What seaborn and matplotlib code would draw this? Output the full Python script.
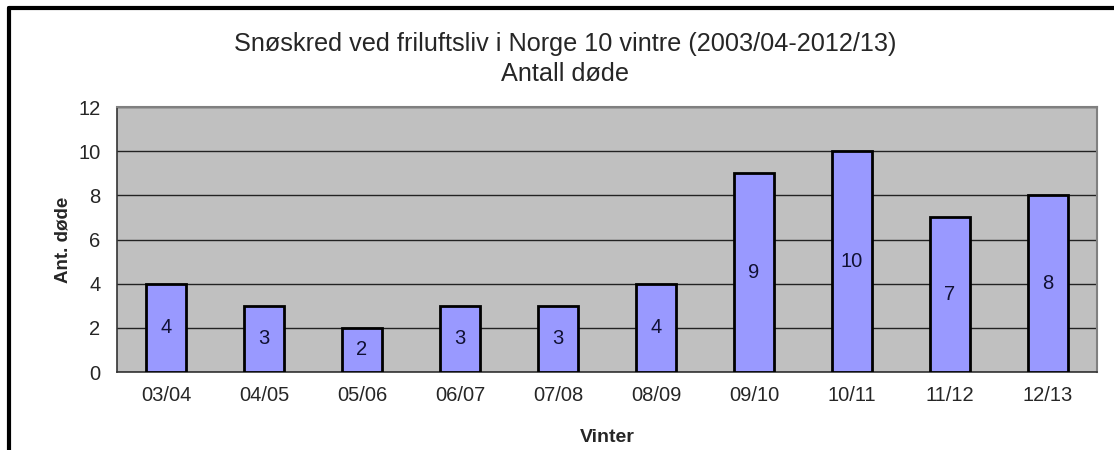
import numpy as np
import pandas as pd
import seaborn as sns
import matplotlib.pyplot as plt
from matplotlib.lines import Line2D

# data
vintre = ['03/04', '04/05', '05/06', '06/07', '07/08', '08/09', '09/10', '10/11', '11/12', '12/13']
doede = [4, 3, 2, 3, 3, 4, 9, 10, 7, 8]

df = pd.DataFrame({'Vinter': vintre, 'Ant. døde': doede})

sns.set_style('white')
plt.rcParams['font.family'] = ['Liberation Sans', 'DejaVu Sans']

fig = plt.figure(figsize=(11.14, 4.5), dpi=100)
ax = fig.add_axes([0.105, 0.1733, 0.8797, 0.5889])
ax.set_facecolor('#C0C0C0')

sns.barplot(data=df, x='Vinter', y='Ant. døde', color='#9999FF', width=0.4,
            edgecolor='black', linewidth=2, saturation=1, ax=ax, zorder=3)

# tall midt i stolpene
for i, v in enumerate(doede):
    ax.text(i, v / 2, str(v), ha='center', va='center', fontsize=14.5, color='#111133', zorder=4)

ax.set_ylim(0, 12)
ax.set_yticks(range(0, 13, 2))
ax.set_xlim(-0.5, len(vintre) - 0.5)
ax.yaxis.grid(True, color='#222222', linewidth=1, zorder=1)
ax.set_axisbelow(True)

ax.set_xticks(np.arange(-0.5, len(vintre)), minor=True)
ax.tick_params(axis='x', which='major', length=0, labelsize=14.5, pad=10)
ax.tick_params(axis='x', which='minor', length=6, width=1, color='#333333', direction='out')
ax.tick_params(axis='y', length=6, width=1, color='#333333', direction='out', labelsize=14.5, pad=6)

for s in ['left', 'bottom']:
    ax.spines[s].set_color('#333333')
    ax.spines[s].set_linewidth(1.2)
for s in ['top', 'right']:
    ax.spines[s].set_color('#808080')
    ax.spines[s].set_linewidth(1.5)

ax.set_xlabel('Vinter', fontsize=14, fontweight='bold', labelpad=17)
ax.set_ylabel('Ant. døde', fontsize=13.5, fontweight='bold', labelpad=5)

fig.text(0.507, 0.903, 'Snøskred ved friluftsliv i Norge 10 vintre (2003/04-2012/13)',
         ha='center', va='center', fontsize=18.2)
fig.text(0.507, 0.836, 'Antall døde', ha='center', va='center', fontsize=18.2)

# ramme
fig.add_artist(Line2D([0.0081, 0.0081], [0, 0.9825], color='black', linewidth=3, transform=fig.transFigure))
fig.add_artist(Line2D([0.0081, 1.0], [0.9825, 0.9825], color='black', linewidth=3, transform=fig.transFigure))

plt.savefig('out.png', dpi=100)
